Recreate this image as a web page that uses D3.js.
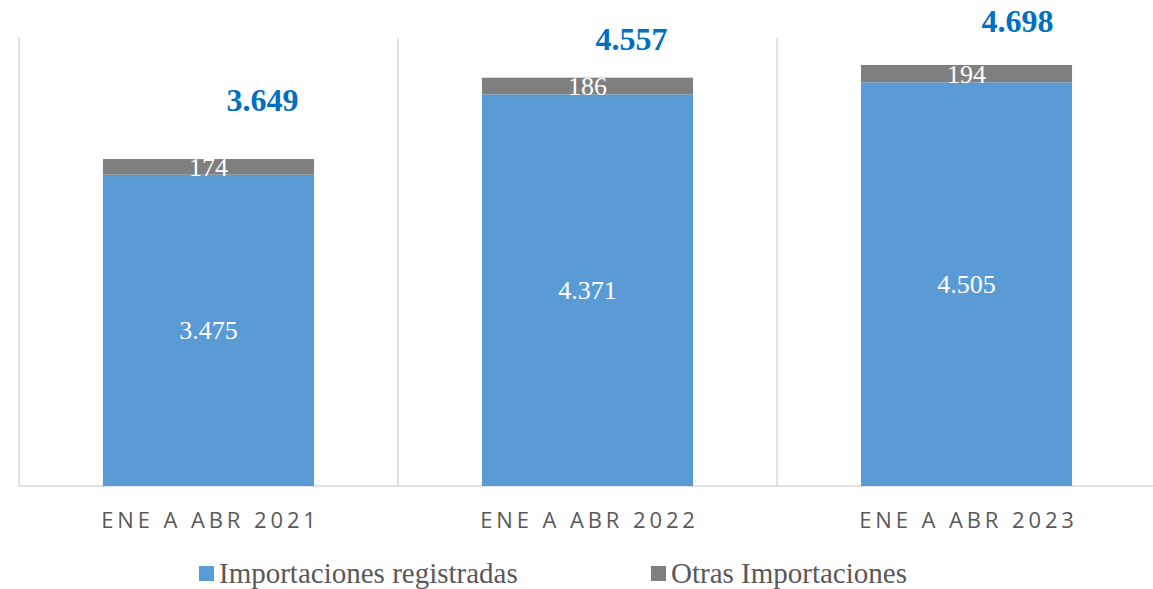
<!DOCTYPE html>
<html>
<head>
<meta charset="utf-8">
<script src="https://cdn.jsdelivr.net/npm/d3@7"></script>
<style>
    body { margin: 0; background: #fff; }
    .grid line { stroke: #d9d9d9; stroke-width: 1.5; }
    .catLabel { font-family: "Open Sans", sans-serif; font-size: 22px; fill: #595959; letter-spacing: 3.9px; }
    .segLabel { font-family: "Liberation Serif", "Times New Roman", serif; font-size: 26px; fill: #fff; }
    .totalLabel { font-family: "Liberation Serif", "Times New Roman", serif; font-size: 32px; font-weight: bold; fill: #0070c0; }
    .legendText { font-family: "Liberation Serif", "Times New Roman", serif; font-size: 29px; fill: #595959; }
</style>
</head>
<body>
<script>
(function () {

    //chart data
    var categories = ["ENE A ABR 2021", "ENE A ABR 2022", "ENE A ABR 2023"];
    var registradas = [3475, 4371, 4505];
    var otras = [174, 186, 194];
    var totals = [3649, 4557, 4698];
    var seriesNames = ["Importaciones registradas", "Otras Importaciones"];
    var seriesColors = ["#5b9bd5", "#7f7f7f"];

    //manual nudges of the total labels (layout only)
    var totalNudge = [[54, -48], [44, -28], [51, -33]];

    var width = 1153, height = 589;
    var left = 19, right = 1156, top = 38, bottom = 486;

    var svg = d3.select("body")
        .append("svg")
        .attr("width", width)
        .attr("height", height);

    var x = d3.scaleBand()
        .domain(categories)
        .range([left, right])
        .paddingInner(0)
        .paddingOuter(0);

    var barW = x.bandwidth() * 0.557;

    var y = d3.scaleLinear()
        .domain([0, 5000])
        .range([bottom, top]);

    //vertical separators between categories
    var grid = svg.append("g").attr("class", "grid");
    grid.selectAll(".vline")
        .data(categories)
        .enter()
        .append("line")
        .attr("x1", function(d){ return x(d); })
        .attr("x2", function(d){ return x(d); })
        .attr("y1", top)
        .attr("y2", bottom);
    grid.append("line")
        .attr("x1", left)
        .attr("x2", right)
        .attr("y1", bottom)
        .attr("y2", bottom);

    //stack the two series
    var rows = categories.map(function(c, i){
        return { cat: c, reg: registradas[i], otr: otras[i], total: totals[i] };
    });
    var stack = d3.stack().keys(["reg", "otr"])(rows);

    var layers = svg.selectAll(".layer")
        .data(stack)
        .enter()
        .append("g")
        .attr("class", "layer")
        .style("fill", function(d, i){ return seriesColors[i]; });

    layers.selectAll("rect")
        .data(function(d){ return d; })
        .enter()
        .append("rect")
        .attr("x", function(d){ return x(d.data.cat) + (x.bandwidth() - barW) / 2; })
        .attr("width", barW)
        .attr("y", function(d){ return y(d[1]); })
        .attr("height", function(d){ return y(d[0]) - y(d[1]); });

    //segment labels
    layers.selectAll("text")
        .data(function(d){ return d; })
        .enter()
        .append("text")
        .attr("class", "segLabel")
        .attr("text-anchor", "middle")
        .attr("x", function(d){ return x(d.data.cat) + x.bandwidth() / 2; })
        .attr("y", function(d){ return (y(d[0]) + y(d[1])) / 2 + 9; })
        .text(function(d){ return d3.format(",")(d[1] - d[0]).replace(/,/g, "."); });

    //total labels
    svg.selectAll(".totalLabel")
        .data(rows)
        .enter()
        .append("text")
        .attr("class", "totalLabel")
        .attr("text-anchor", "middle")
        .attr("x", function(d, i){ return x(d.cat) + x.bandwidth() / 2 + totalNudge[i][0]; })
        .attr("y", function(d, i){ return y(d.total) + totalNudge[i][1]; })
        .text(function(d){ return d3.format(",")(d.total).replace(/,/g, "."); });

    //category labels
    svg.selectAll(".catLabel")
        .data(categories)
        .enter()
        .append("text")
        .attr("class", "catLabel")
        .attr("text-anchor", "middle")
        .attr("x", function(d){ return x(d) + x.bandwidth() / 2 + 2; })
        .attr("y", 528)
        .text(function(d){ return d; });

    //legend
    var legendX = [199, 651];
    var legend = svg.selectAll(".legendItem")
        .data(seriesNames)
        .enter()
        .append("g")
        .attr("class", "legendItem")
        .attr("transform", function(d, i){ return "translate(" + legendX[i] + ",566)"; });
    legend.append("rect")
        .attr("width", 15)
        .attr("height", 15)
        .style("fill", function(d, i){ return seriesColors[i]; });
    legend.append("text")
        .attr("class", "legendText")
        .attr("x", 20)
        .attr("y", 17)
        .text(function(d){ return d; });

})();
</script>
</body>
</html>
